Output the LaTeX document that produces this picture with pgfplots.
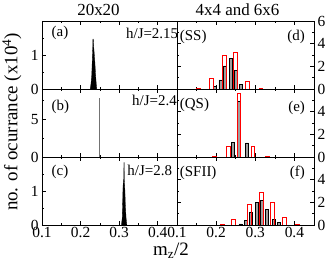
\documentclass[border=0pt]{standalone}
\usepackage{fontspec}
\setmainfont{Liberation Serif}
\usepackage{pgfplots}
\pgfplotsset{compat=1.18}
\tikzset{lab/.style={font=\fontsize{15}{15}\selectfont, inner sep=0pt}}
\pgfplotsset{
  panel/.style={scale only axis, anchor=south west, xmin=0.1, xmax=0.45, ymin=0,
    xtick={0.1,0.2,0.3,0.4}, minor xtick={0.15,0.25,0.35},
    xticklabels={}, major tick length=4bp, minor tick length=2bp,
    axis line style={line width=0.8pt},
    every tick/.style={black, line width=0.6pt},
    tick label style={font=\fontsize{15.5}{15.5}\selectfont},
    xticklabel style={yshift=1bp},
    /pgf/number format/assume math mode=true},
  leftp/.style={panel, width=135bp, height=68bp, ytick pos=left},
  rightp/.style={panel, width=137bp, height=68bp, ytick pos=both, yticklabel pos=right,
    ymax=6, minor ytick={1,3,5}},
  redbar/.style={ybar, bar width=0.0095, bar shift=0pt, draw=red, line width=0.7pt, fill=none},
  graybar/.style={ybar, bar width=0.0075, bar shift=0pt, draw=black, line width=0.5pt, fill=black!38},
}
\begin{document}
\begin{tikzpicture}
\useasboundingbox (0,0) rectangle (327bp,265bp);
% (a)
\begin{axis}[leftp, at={(42bp,176bp)}, ymax=2, ytick={0,1}, yticklabels={0,1}, minor ytick={0.5,1.5}]
\addplot[fill=black, draw=black, line width=0.3pt] coordinates {
(0.225,0) (0.227,0.15) (0.229,0.4) (0.2305,0.9) (0.2315,1.2) (0.232,1.47) (0.233,1.47)
(0.234,1.25) (0.235,1.1) (0.237,0.8) (0.239,0.4) (0.241,0.1) (0.242,0)} \closedcycle;
\node[lab, anchor=west] at (rel axis cs:0.07,0.82) {(a)};
\node[lab, anchor=east] at (rel axis cs:1.01,0.82) {h/J=2.15};
\end{axis}
% (b)
\begin{axis}[leftp, at={(42bp,108bp)}, ymax=9, ytick={0,5}, yticklabels={0,5}, minor ytick={2.5,7.5}]
\addplot[black!55, line width=1.2pt] coordinates {(0.25,0) (0.25,7.8)};
\node[lab, anchor=west] at (rel axis cs:0.07,0.74) {(b)};
\node[lab, anchor=east] at (rel axis cs:1.0,0.83) {h/J=2.4};
\end{axis}
% (c)
\begin{axis}[leftp, at={(42bp,40bp)}, ymax=2, ytick={0,1}, yticklabels={0,1}, minor ytick={0.5,1.5},
  xticklabels={0.1,0.2,0.3,0.4}]
\addplot[fill=black, draw=black, line width=0.3pt] coordinates {
(0.306,0) (0.308,0.2) (0.309,0.6) (0.310,1.1) (0.311,1.3) (0.312,1.35) (0.3125,1.84) (0.313,1.84)
(0.3135,1.3) (0.315,1.0) (0.316,0.6) (0.318,0.2) (0.320,0)} \closedcycle;
\node[lab, anchor=west] at (rel axis cs:0.07,0.78) {(c)};
\node[lab, anchor=west] at (axis cs:0.321,1.6) {h/J=2.8};
\end{axis}
% (d)
\begin{axis}[rightp, at={(177bp,176bp)}, ytick={0,2,4,6}, yticklabels={0,2,4,6}]
\addplot[graybar] coordinates {(0.196,0.2) (0.211,0.8) (0.223,2.05) (0.238,2.68) (0.251,1.65) (0.264,0.38)};
\addplot[redbar] coordinates {(0.155,0.1) (0.188,0.98) (0.221,2.95) (0.249,3.2) (0.28,0.7) (0.314,0.05)};
\node[lab, anchor=west] at (rel axis cs:0.02,0.77) {(SS)};
\node[lab, anchor=east] at (rel axis cs:0.935,0.77) {(d)};
\end{axis}
% (e)
\begin{axis}[rightp, at={(177bp,108bp)}, ytick={0,2,4}, yticklabels={0,2,4}]
\addplot[graybar] coordinates {(0.2435,1.3) (0.2578,4.9) (0.2793,1.25)};
\addplot[redbar] coordinates {(0.196,0.08) (0.231,0.96) (0.2578,5.6) (0.2937,0.96) (0.330,0.08)};
\node[lab, anchor=west] at (rel axis cs:0.02,0.76) {(QS)};
\node[lab, anchor=east] at (rel axis cs:0.935,0.72) {(e)};
\end{axis}
% (f)
\begin{axis}[rightp, at={(177bp,40bp)}, ytick={0,2,4}, yticklabels={0,2,4},
  xticklabels={0.1,0.2,0.3,0.4}]
\addplot[graybar] coordinates {(0.262,0.1) (0.275,0.42) (0.289,1.15) (0.304,2.0) (0.316,2.2) (0.329,1.37) (0.348,0.52) (0.36,0.2)};
\addplot[redbar] coordinates {(0.216,0.05) (0.2445,0.5) (0.285,1.85) (0.315,2.88) (0.344,2.0) (0.374,0.65) (0.407,0.05)};
\node[lab, anchor=west] at (rel axis cs:0.02,0.76) {(SFII)};
\node[lab, anchor=east] at (rel axis cs:0.935,0.76) {(f)};
\end{axis}
% titles and labels
\node[font=\fontsize{17}{17}\selectfont] at (98.5bp,255bp) {20x20};
\node[font=\fontsize{17}{17}\selectfont] at (237.5bp,255bp) {4x4 and 6x6};
\node[font=\fontsize{19}{19}\selectfont, rotate=90] at (12bp,143bp) {no. of ocurrance (x10\textsuperscript{4})};
\node[font=\fontsize{19}{19}\selectfont] at (171bp,14bp) {m\textsubscript{z}/2};
\end{tikzpicture}
\end{document}
